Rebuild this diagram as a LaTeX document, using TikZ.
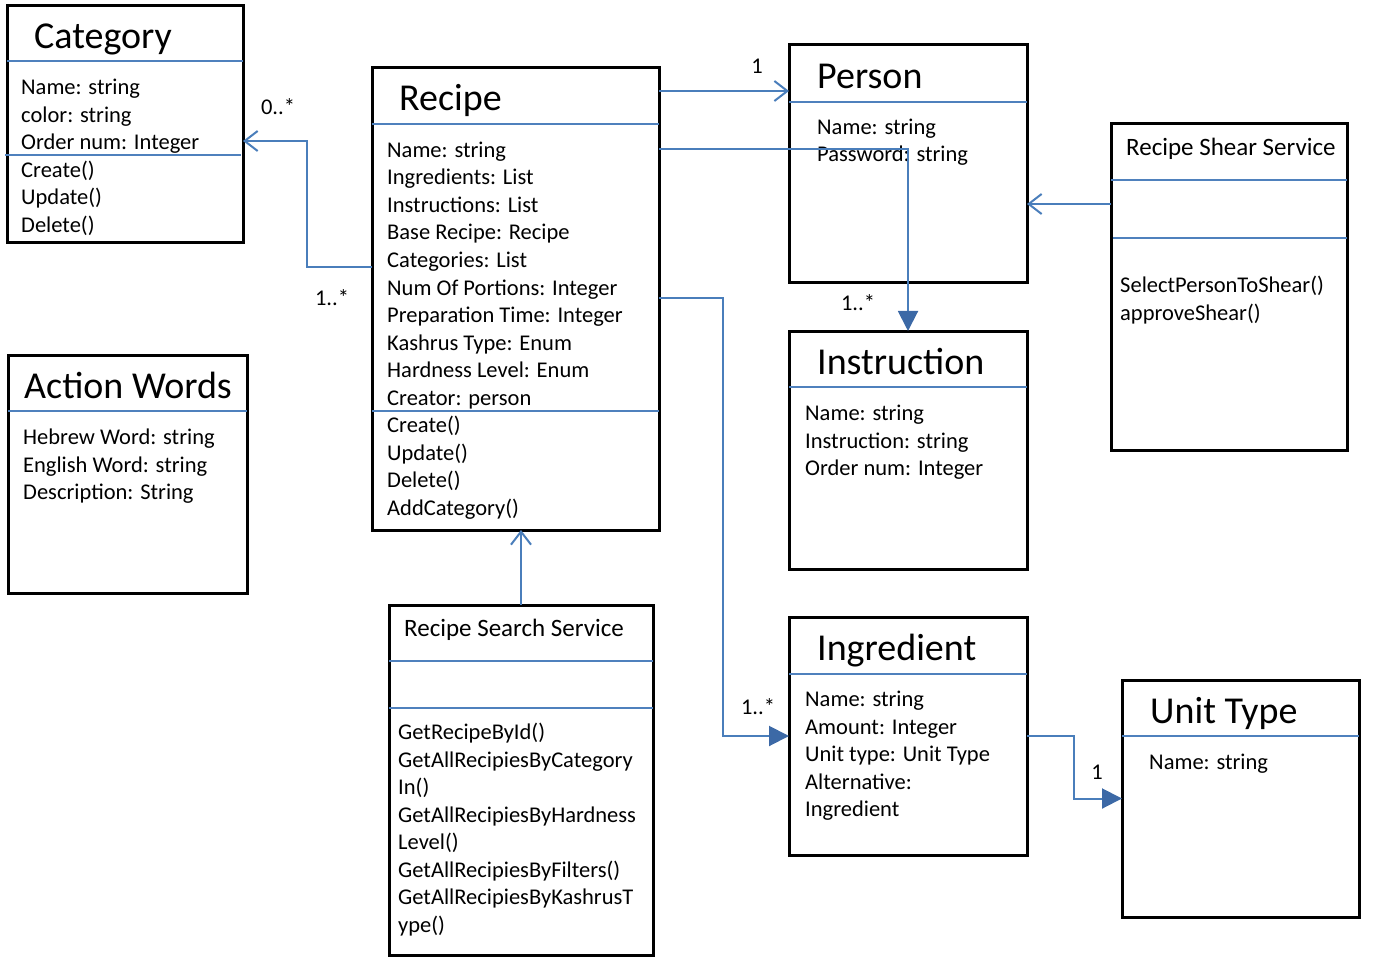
\documentclass[tikz,border=0pt]{standalone}
\usepackage{fontspec}
\setmainfont{Carlito}
\usetikzlibrary{arrows.meta}
\definecolor{umlblue}{HTML}{4F81BD}
\definecolor{linkblue}{HTML}{4A7EBB}
\definecolor{tipblue}{HTML}{3C69A6}
\begin{document}
\begin{tikzpicture}[x=1pt,y=-1pt,
  cls/.style={draw=black,line width=3pt,anchor=north west,inner sep=0pt,outer sep=0pt},
  sep/.style={draw=umlblue,line width=2pt},
  title/.style={anchor=base west,inner sep=0pt,font=\fontsize{38}{40}\selectfont},
  stitle/.style={anchor=base west,inner sep=0pt,font=\fontsize{25}{28}\selectfont},
  item/.style={anchor=base west,inner sep=0pt,font=\fontsize{22.5}{27.5}\selectfont},
  mult/.style={inner sep=0pt,font=\fontsize{22.5}{27.5}\selectfont},
  assoc/.style={draw=linkblue,line width=2pt,-{Straight Barb[length=13pt,width=20pt,line width=2pt]}},
  comp/.style={draw=linkblue,line width=2pt,-{Triangle[length=20pt,width=20pt,color=tipblue]}}]
\useasboundingbox (0,0) rectangle (1380,957);
% class boxes
\node[cls,minimum width=236pt,minimum height=237pt] (category) at (7,6) {};
\node[cls,minimum width=287pt,minimum height=462pt] (recipe) at (372,68) {};
\node[cls,minimum width=238pt,minimum height=238pt] (person) at (789,45) {};
\node[cls,minimum width=236pt,minimum height=326pt] (shear) at (1111,124) {};
\node[cls,minimum width=239pt,minimum height=238pt] (words) at (8,355) {};
\node[cls,minimum width=238pt,minimum height=238pt] (instruction) at (789,331) {};
\node[cls,minimum width=264pt,minimum height=350pt] (search) at (389,605) {};
\node[cls,minimum width=238pt,minimum height=238pt] (ingredient) at (789,617) {};
\node[cls,minimum width=237pt,minimum height=237pt] (unittype) at (1122,680) {};
% compartments
\draw[sep] (7,61) -- (243,61) (5,155) -- (241,155);
\draw[sep] (372,124) -- (659,124) (372,411) -- (659,411);
\draw[sep] (789,102) -- (1027,102);
\draw[sep] (1111,180) -- (1347,180) (1113,238) -- (1347,238);
\draw[sep] (8,411) -- (247,411);
\draw[sep] (789,387) -- (1027,387);
\draw[sep] (389,661) -- (653,661) (389,708) -- (653,708);
\draw[sep] (789,674) -- (1027,674);
\draw[sep] (1122,736) -- (1359,736);
% titles
\node[title] (cattitle) at (34,49) {Category};
\node[title] (rectitle) at (399,111) {Recipe};
\node[title] (pertitle) at (817,89) {Person};
\node[stitle] (sheartitle) at (1126,156) {Recipe Shear Service};
\node[title] (wordstitle) at (24,398) {Action Words};
\node[title] (instrtitle) at (817,374) {Instruction};
\node[stitle] (searchtitle) at (404,636) {Recipe Search Service};
\node[title] (ingrtitle) at (817,660) {Ingredient};
\node[title] (unittitle) at (1150,723) {Unit Type};
% members
\foreach \t [count=\i from 0] in {Name: string,color: string,Order num: Integer,Create(),Update(),Delete()}
  \node[item] (catitem\i) at (21,{95+27.5*\i}) {\t};
\foreach \t [count=\i from 0] in {Name: string,Ingredients: List,Instructions: List,Base Recipe: Recipe,
    Categories: List,Num Of Portions: Integer,Preparation Time: Integer,Kashrus Type: Enum,
    Hardness Level: Enum,Creator: person,Create(),Update(),Delete(),AddCategory()}
  \node[item] (recitem\i) at (387,{157.5+27.5*\i}) {\t};
\foreach \t [count=\i from 0] in {Name: string,Password: string}
  \node[item] (peritem\i) at (817,{134.5+27.5*\i}) {\t};
\foreach \t [count=\i from 0] in {SelectPersonToShear(),approveShear()}
  \node[item] (shearitem\i) at (1120,{293+27.5*\i}) {\t};
\foreach \t [count=\i from 0] in {Hebrew Word: string,English Word: string,Description: String}
  \node[item] (wordsitem\i) at (23,{444.5+27.5*\i}) {\t};
\foreach \t [count=\i from 0] in {Name: string,Instruction: string,Order num: Integer}
  \node[item] (instritem\i) at (805,{420.5+27.5*\i}) {\t};
\foreach \t [count=\i from 0] in {GetRecipeById(),GetAllRecipiesByCategory,In(),GetAllRecipiesByHardness,
    Level(),GetAllRecipiesByFilters(),GetAllRecipiesByKashrusT,ype()}
  \node[item] (searchitem\i) at (398,{739.5+27.5*\i}) {\t};
\foreach \t [count=\i from 0] in {Name: string,Amount: Integer,Unit type: Unit Type,Alternative:,Ingredient}
  \node[item] (ingritem\i) at (805,{706.5+27.5*\i}) {\t};
\node[item] (unititem0) at (1149,769.5) {Name: string};
% associations
\draw[assoc] (recipe.west |- 0,267) -| (307,141) -- (category.east |- 0,141);
\draw[assoc] (recipe.east |- 0,91) -- (person.west |- 0,91);
\draw[comp] (recipe.east |- 0,149) -| (instruction.north);
\draw[comp] (recipe.east |- 0,298) -| (723,736) -- (ingredient.west);
\draw[comp] (ingredient.east) -| (1074,798.5) -- (unittype.west);
\draw[assoc] (shear.west |- 0,204) -- (person.east |- 0,204);
\draw[assoc] (search.north) -- (search.north |- recipe.south);
% multiplicities
\node[mult] (m1) at (278,107) {0..*};
\node[mult] (m2) at (332,298) {1..*};
\node[mult] (m3) at (757,66) {1};
\node[mult] (m4) at (858,303) {1..*};
\node[mult] (m5) at (758,707) {1..*};
\node[mult] (m6) at (1097,772) {1};
\end{tikzpicture}
\end{document}
